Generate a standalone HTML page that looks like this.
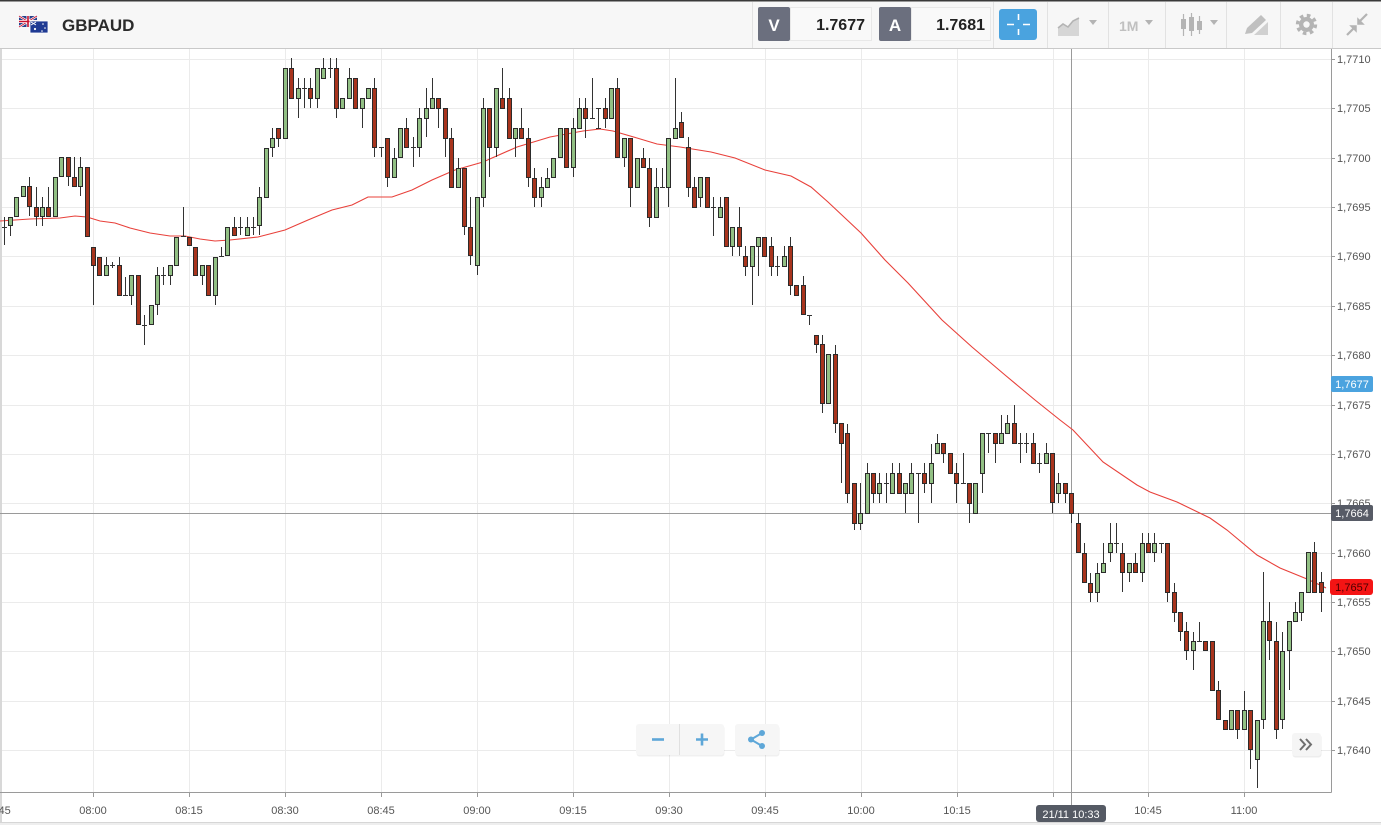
<!DOCTYPE html>
<html><head><meta charset="utf-8">
<style>
html,body{margin:0;padding:0;background:#fff;width:1381px;height:825px;overflow:hidden;}
svg{display:block;font-family:"Liberation Sans",Arial,sans-serif;}
</style></head>
<body>
<svg width="1381" height="825" viewBox="0 0 1381 825" xmlns="http://www.w3.org/2000/svg">
<!-- header -->
<rect x="0" y="0" width="1381" height="48" fill="#f7f7f7"/>
<rect x="0" y="0" width="1381" height="1.5" fill="#3a3a3a"/>
<rect x="0" y="48" width="1381" height="1" fill="#c9c9c9"/>
<g stroke="#e2e2e2" stroke-width="1">
<path d="M752.5 2V48M993.5 2V48M1047.5 2V48M1108.5 2V48M1165.5 2V48M1226.5 2V48M1280.5 2V48M1332.5 2V48"/>
</g>
<!-- flags -->
<g>
<rect x="19" y="16" width="18" height="11" fill="#27408b"/>
<path d="M19 16L37 27M37 16L19 27" stroke="#fff" stroke-width="2.2"/>
<path d="M19 16L37 27M37 16L19 27" stroke="#c8102e" stroke-width="0.8"/>
<path d="M28 16V27M19 21.5H37" stroke="#fff" stroke-width="3"/>
<path d="M28 16V27M19 21.5H37" stroke="#c8102e" stroke-width="1.6"/>
<rect x="30" y="21" width="18" height="12" fill="#1f3a93" stroke="#fff" stroke-width="0.8"/>
<circle cx="35" cy="29" r="1.1" fill="#fff"/><circle cx="43" cy="24" r="0.8" fill="#fff"/><circle cx="45" cy="28" r="0.8" fill="#fff"/><circle cx="42" cy="31" r="0.8" fill="#fff"/>
<path d="M31 22L36 25M36 22L31 25" stroke="#fff" stroke-width="1"/>
</g>
<text x="62" y="31" font-size="17" font-weight="bold" fill="#2b2b2b">GBPAUD</text>
<!-- V / A -->
<rect x="758" y="7" width="32" height="34" fill="#6b6f7e" rx="2"/>
<text x="774" y="31" font-size="17" font-weight="bold" fill="#fff" text-anchor="middle">V</text>
<rect x="790.5" y="7.5" width="81" height="33" fill="#f9f9f9" stroke="#e8e8e8"/>
<text x="865" y="30" font-size="16" font-weight="bold" fill="#222" text-anchor="end">1.7677</text>
<rect x="879" y="7" width="32" height="34" fill="#6b6f7e" rx="2"/>
<text x="895" y="31" font-size="17" font-weight="bold" fill="#fff" text-anchor="middle">A</text>
<rect x="911.5" y="7.5" width="79" height="33" fill="#f9f9f9" stroke="#e8e8e8"/>
<text x="985" y="30" font-size="16" font-weight="bold" fill="#222" text-anchor="end">1.7681</text>
<!-- crosshair button -->
<rect x="999" y="9" width="38" height="31" rx="3" fill="#4aa3df"/>
<path d="M1007 24.5H1014M1023 24.5H1030M1018.5 14V20M1018.5 29V35" stroke="#fff" stroke-width="1.6"/>
<!-- chart type icon -->
<g fill="#c4c4c4" stroke="none">
<path d="M1058 36V28L1063 24L1068 27L1073 21L1079 18V36Z" fill="#d6d6d6"/>
<path d="M1058 28L1063 24L1068 27L1073 21L1079 18" stroke="#b4b4b4" stroke-width="1.6" fill="none"/>
<path d="M1089 20H1097L1093 25Z" fill="#b4b4b4"/>
<text x="1119" y="31" font-size="14" font-weight="bold" fill="#c0c0c0">1M</text>
<path d="M1145 20H1153L1149 25Z" fill="#b4b4b4"/>
<path d="M1183.5 14V36M1191.5 13V36M1199.5 16V34" stroke="#b4b4b4" stroke-width="1.2"/>
<rect x="1181" y="19" width="5" height="10" fill="#b4b4b4"/>
<rect x="1189" y="17" width="5" height="14" fill="#b4b4b4"/>
<rect x="1197" y="21" width="5" height="9" fill="#b4b4b4"/>
<path d="M1210 20H1218L1214 25Z" fill="#b4b4b4"/>
<!-- pencil -->
<path d="M1245 34L1247 28L1261 15L1266 20L1252 33Z" fill="#c0c0c0"/>
<path d="M1254 35L1268 22V35Z" fill="#d0d0d0"/>
<!-- gear -->
<circle cx="1306.5" cy="24.5" r="7.5" fill="#b4b4b4"/>
<circle cx="1306.5" cy="24.5" r="9" fill="none" stroke="#b4b4b4" stroke-width="3.4" stroke-dasharray="3.6 3.47"/>
<circle cx="1306.5" cy="24.5" r="3.2" fill="#f7f7f7"/>
<!-- compress -->
<path d="M1347 35L1354 28M1367 14L1360 21" stroke="#b4b4b4" stroke-width="2.2"/>
<path d="M1351 26H1356V31Z M1363 24H1358V19Z" fill="#b4b4b4" stroke="#b4b4b4" stroke-width="1.5"/>
</g>

<!-- grid -->
<g stroke="#ebebeb" stroke-width="1">
<path d="M0 59.5H1331M0 108.5H1331M0 158.5H1331M0 207.5H1331M0 256.5H1331M0 306.5H1331M0 355.5H1331M0 405.5H1331M0 454.5H1331M0 503.5H1331M0 553.5H1331M0 602.5H1331M0 651.5H1331M0 701.5H1331M0 750.5H1331"/>
<path d="M93.5 49V792M189.5 49V792M285.5 49V792M381.5 49V792M477.5 49V792M573.5 49V792M669.5 49V792M765.5 49V792M861.5 49V792M957.5 49V792M1053.5 49V792M1148.5 49V792M1244.5 49V792"/>
</g>
<rect x="0" y="49" width="2" height="774" fill="#d8d8d8"/>

<!-- crosshair -->
<path d="M1071.5 49V805M0 513.5H1331" stroke="#9a9a9a" stroke-width="1"/>

<!-- MA line -->
<polyline fill="none" stroke="#e8403a" stroke-width="1.1" points="0,221 30,219 60,218 75,216 87,217 100,221 115,223 130,228 150,233 170,236 185,236 200,239 215,241 230,240 258,237 285,230 308,220 332,210 352,205 368,197 392,197 412,190 432,180 455,170 483,162 517,147 550,137 583,131 600,129 613,131 637,138 657,144 680,147 711,152 735,158 765,170 791,176 811,187 828,202 861,233 885,260 908,283 942,320 972,347 1005,375 1035,400 1060,420 1073,430 1103,462 1137,485 1150,492 1177,502 1210,518 1227,530 1257,555 1280,568 1307,579 1320,585 1326,588"/>

<!-- wicks -->
<path fill="none" stroke="#333" stroke-width="1" d="M4.5 217V245 M10.5 217V236 M29.5 177V216 M36.5 187V226 M42.5 197V226 M48.5 187V216 M68.5 157V186 M74.5 157V186 M80.5 157V196 M93.5 247V305 M106.5 257V275 M112.5 262V268 M119.5 257V295 M125.5 277V295 M131.5 275V305 M144.5 315V345 M157.5 267V315 M163.5 267V285 M170.5 265V285 M183.5 207V236 M202.5 265V285 M215.5 257V305 M221.5 247V256 M234.5 217V235 M240.5 217V235 M247.5 217V235 M253.5 217V235 M259.5 187V235 M272.5 128V157 M278.5 128V147 M291.5 58V98 M298.5 78V118 M304.5 78V108 M310.5 78V108 M317.5 68V108 M323.5 58V78 M330.5 58V78 M336.5 58V118 M349.5 68V98 M362.5 98V128 M374.5 78V157 M381.5 147V157 M387.5 138V187 M394.5 148V177 M406.5 118V147 M413.5 137V167 M419.5 108V157 M426.5 88V137 M432.5 78V108 M438.5 98V128 M445.5 108V157 M451.5 128V187 M458.5 158V187 M464.5 168V235 M470.5 197V265 M477.5 197V275 M483.5 98V207 M489.5 108V177 M496.5 88V157 M502.5 68V108 M509.5 88V138 M515.5 128V157 M521.5 108V138 M528.5 128V187 M534.5 168V207 M541.5 177V207 M547.5 168V187 M573.5 118V177 M579.5 98V128 M585.5 98V138 M592.5 78V118 M598.5 108V128 M605.5 98V128 M617.5 78V157 M624.5 138V167 M630.5 138V207 M643.5 148V167 M649.5 158V227 M656.5 168V217 M662.5 168V187 M668.5 138V207 M675.5 78V138 M681.5 112V137 M688.5 137V197 M694.5 177V207 M700.5 177V207 M713.5 197V236 M720.5 197V217 M732.5 227V256 M739.5 207V256 M745.5 246V276 M752.5 246V305 M758.5 237V276 M771.5 237V276 M777.5 256V276 M784.5 246V266 M790.5 237V295 M803.5 276V314 M809.5 315V325 M816.5 335V353 M822.5 335V413 M835.5 345V433 M841.5 423V483 M847.5 424V503 M854.5 483V530 M860.5 483V530 M867.5 463V513 M873.5 473V503 M879.5 473V503 M886.5 473V503 M892.5 463V493 M899.5 463V493 M905.5 483V513 M911.5 463V493 M918.5 473V523 M924.5 463V493 M931.5 444V503 M937.5 434V453 M943.5 443V463 M956.5 463V503 M963.5 453V483 M969.5 483V523 M982.5 433V493 M988.5 433V453 M995.5 433V463 M1001.5 415V443 M1007.5 415V433 M1014.5 405V443 M1020.5 433V463 M1026.5 433V453 M1033.5 433V463 M1039.5 453V473 M1046.5 443V463 M1052.5 453V513 M1058.5 473V503 M1065.5 483V503 M1071.5 493V523 M1078.5 513V552 M1084.5 543V582 M1090.5 573V602 M1097.5 563V602 M1103.5 543V572 M1110.5 523V562 M1116.5 523V553 M1122.5 543V592 M1129.5 563V582 M1135.5 553V572 M1142.5 533V582 M1148.5 533V552 M1154.5 533V562 M1161.5 543V553 M1167.5 543V602 M1174.5 583V622 M1180.5 612V641 M1186.5 622V660 M1193.5 632V670 M1199.5 622V641 M1218.5 681V719 M1237.5 710V739 M1244.5 691V729 M1250.5 710V769 M1257.5 720V788 M1263.5 572V729 M1269.5 602V660 M1276.5 622V739 M1282.5 632V729 M1289.5 621V690 M1295.5 602V621 M1301.5 592V621 M1314.5 542V592 M1321.5 572V612"/>

<!-- dojis -->
<path fill="none" stroke="#333" stroke-width="1" d="M2 227.5h5 M110 265.5h5 M123 295.5h5 M142 325.5h5 M161 275.5h5 M181 236.5h5 M219 256.5h5 M238 227.5h5 M251 227.5h5 M302 88.5h5 M328 68.5h5 M379 147.5h5 M411 147.5h5 M590 118.5h5 M596 108.5h5 M596 128.5h5 M660 187.5h5 M711 207.5h5 M775 266.5h5 M807 315.5h5 M884 483.5h5 M916 473.5h5 M961 483.5h5 M986 433.5h5 M1018 443.5h5 M1024 443.5h5 M1037 463.5h5 M1114 543.5h5 M1159 543.5h5 M1197 641.5h5"/>

<!-- green bodies -->
<path fill="#92c084" stroke="#2b2b2b" stroke-width="1" d="M8.5 217.5h4v8h-4z M14.5 197.5h4v19h-4z M21.5 186.5h4v10h-4z M40.5 207.5h4v9h-4z M53.5 177.5h4v39h-4z M59.5 157.5h4v19h-4z M78.5 167.5h4v19h-4z M104.5 265.5h4v10h-4z M129.5 275.5h4v20h-4z M149.5 305.5h4v19h-4z M155.5 275.5h4v29h-4z M168.5 265.5h4v10h-4z M174.5 237.5h4v28h-4z M200.5 265.5h4v10h-4z M213.5 257.5h4v38h-4z M225.5 227.5h4v28h-4z M245.5 227.5h4v8h-4z M257.5 197.5h4v28h-4z M264.5 148.5h4v49h-4z M270.5 138.5h4v9h-4z M283.5 68.5h4v70h-4z M296.5 88.5h4v10h-4z M315.5 68.5h4v30h-4z M321.5 68.5h4v10h-4z M340.5 98.5h4v10h-4z M347.5 78.5h4v20h-4z M360.5 98.5h4v10h-4z M366.5 88.5h4v10h-4z M392.5 158.5h4v19h-4z M398.5 128.5h4v29h-4z M417.5 118.5h4v29h-4z M424.5 108.5h4v10h-4z M430.5 98.5h4v10h-4z M456.5 168.5h4v19h-4z M475.5 197.5h4v68h-4z M481.5 108.5h4v89h-4z M494.5 88.5h4v59h-4z M513.5 128.5h4v10h-4z M539.5 187.5h4v10h-4z M545.5 178.5h4v9h-4z M551.5 158.5h4v19h-4z M558.5 128.5h4v29h-4z M571.5 128.5h4v39h-4z M577.5 108.5h4v20h-4z M609.5 88.5h4v30h-4z M622.5 138.5h4v19h-4z M635.5 158.5h4v29h-4z M654.5 187.5h4v30h-4z M666.5 138.5h4v49h-4z M673.5 128.5h4v10h-4z M698.5 177.5h4v20h-4z M718.5 207.5h4v10h-4z M730.5 227.5h4v19h-4z M750.5 246.5h4v20h-4z M756.5 237.5h4v9h-4z M782.5 256.5h4v10h-4z M826.5 354.5h4v49h-4z M858.5 513.5h4v10h-4z M865.5 473.5h4v40h-4z M877.5 483.5h4v10h-4z M890.5 473.5h4v20h-4z M903.5 483.5h4v10h-4z M909.5 473.5h4v20h-4z M929.5 463.5h4v20h-4z M935.5 443.5h4v10h-4z M973.5 483.5h4v30h-4z M980.5 433.5h4v40h-4z M999.5 433.5h4v10h-4z M1005.5 423.5h4v10h-4z M1044.5 453.5h4v10h-4z M1056.5 483.5h4v10h-4z M1095.5 573.5h4v19h-4z M1101.5 563.5h4v9h-4z M1108.5 543.5h4v9h-4z M1127.5 563.5h4v9h-4z M1140.5 543.5h4v29h-4z M1152.5 543.5h4v9h-4z M1191.5 641.5h4v9h-4z M1229.5 710.5h4v19h-4z M1242.5 710.5h4v19h-4z M1255.5 720.5h4v39h-4z M1261.5 621.5h4v98h-4z M1280.5 651.5h4v68h-4z M1287.5 621.5h4v29h-4z M1293.5 612.5h4v9h-4z M1299.5 592.5h4v20h-4z M1306.5 552.5h4v40h-4z"/>

<!-- red bodies -->
<path fill="#a8341d" stroke="#2b2b2b" stroke-width="1" d="M27.5 186.5h4v20h-4z M34.5 207.5h4v9h-4z M46.5 207.5h4v9h-4z M66.5 157.5h4v19h-4z M72.5 177.5h4v9h-4z M85.5 167.5h4v69h-4z M91.5 247.5h4v18h-4z M97.5 257.5h4v18h-4z M117.5 265.5h4v30h-4z M136.5 275.5h4v49h-4z M187.5 237.5h4v8h-4z M193.5 247.5h4v28h-4z M206.5 265.5h4v30h-4z M232.5 227.5h4v8h-4z M276.5 128.5h4v10h-4z M289.5 68.5h4v30h-4z M308.5 88.5h4v10h-4z M334.5 68.5h4v40h-4z M353.5 78.5h4v30h-4z M372.5 88.5h4v59h-4z M385.5 138.5h4v39h-4z M404.5 128.5h4v19h-4z M436.5 98.5h4v10h-4z M443.5 108.5h4v30h-4z M449.5 138.5h4v49h-4z M462.5 168.5h4v58h-4z M468.5 227.5h4v28h-4z M487.5 108.5h4v39h-4z M500.5 98.5h4v10h-4z M507.5 98.5h4v40h-4z M519.5 128.5h4v10h-4z M526.5 138.5h4v39h-4z M532.5 178.5h4v19h-4z M564.5 128.5h4v39h-4z M583.5 108.5h4v10h-4z M603.5 108.5h4v10h-4z M615.5 88.5h4v69h-4z M628.5 138.5h4v49h-4z M641.5 158.5h4v9h-4z M647.5 168.5h4v49h-4z M679.5 122.5h4v15h-4z M686.5 147.5h4v40h-4z M692.5 187.5h4v20h-4z M705.5 177.5h4v30h-4z M724.5 197.5h4v49h-4z M737.5 227.5h4v19h-4z M743.5 256.5h4v10h-4z M762.5 237.5h4v19h-4z M769.5 246.5h4v20h-4z M788.5 246.5h4v39h-4z M794.5 285.5h4v10h-4z M801.5 285.5h4v29h-4z M814.5 335.5h4v9h-4z M820.5 344.5h4v59h-4z M833.5 354.5h4v69h-4z M839.5 423.5h4v20h-4z M845.5 433.5h4v60h-4z M852.5 483.5h4v40h-4z M871.5 473.5h4v20h-4z M897.5 473.5h4v20h-4z M922.5 473.5h4v10h-4z M941.5 443.5h4v10h-4z M948.5 453.5h4v20h-4z M954.5 473.5h4v10h-4z M967.5 483.5h4v20h-4z M993.5 433.5h4v10h-4z M1012.5 423.5h4v20h-4z M1031.5 443.5h4v20h-4z M1050.5 453.5h4v49h-4z M1063.5 483.5h4v10h-4z M1069.5 493.5h4v20h-4z M1076.5 523.5h4v29h-4z M1082.5 553.5h4v29h-4z M1088.5 583.5h4v9h-4z M1120.5 553.5h4v19h-4z M1133.5 563.5h4v9h-4z M1146.5 543.5h4v9h-4z M1165.5 543.5h4v49h-4z M1172.5 592.5h4v20h-4z M1178.5 612.5h4v19h-4z M1184.5 631.5h4v19h-4z M1203.5 641.5h4v9h-4z M1210.5 641.5h4v49h-4z M1216.5 690.5h4v29h-4z M1223.5 720.5h4v9h-4z M1235.5 710.5h4v19h-4z M1248.5 710.5h4v39h-4z M1267.5 621.5h4v19h-4z M1274.5 641.5h4v88h-4z M1312.5 552.5h4v40h-4z M1319.5 582.5h4v10h-4z"/>

<!-- axes -->
<path d="M1331.5 49V792.5M0 792.5H1331.5" stroke="#9a9a9a" stroke-width="1"/>
<path stroke="#9a9a9a" stroke-width="1" d="M1331 59.5h4M1331 108.5h4M1331 158.5h4M1331 207.5h4M1331 256.5h4M1331 306.5h4M1331 355.5h4M1331 405.5h4M1331 454.5h4M1331 503.5h4M1331 553.5h4M1331 602.5h4M1331 651.5h4M1331 701.5h4M1331 750.5h4 M93.5 792v5M189.5 792v5M285.5 792v5M381.5 792v5M477.5 792v5M573.5 792v5M669.5 792v5M765.5 792v5M861.5 792v5M957.5 792v5M1053.5 792v5M1148.5 792v5M1244.5 792v5"/>
<g font-size="11" fill="#555">
<text x="1337" y="63">1,7710</text>
<text x="1337" y="112">1,7705</text>
<text x="1337" y="162">1,7700</text>
<text x="1337" y="211">1,7695</text>
<text x="1337" y="260">1,7690</text>
<text x="1337" y="310">1,7685</text>
<text x="1337" y="359">1,7680</text>
<text x="1337" y="409">1,7675</text>
<text x="1337" y="458">1,7670</text>
<text x="1337" y="507">1,7665</text>
<text x="1337" y="557">1,7660</text>
<text x="1337" y="606">1,7655</text>
<text x="1337" y="655">1,7650</text>
<text x="1337" y="705">1,7645</text>
<text x="1337" y="754">1,7640</text>
</g>
<g font-size="11" fill="#555" text-anchor="middle">
<text x="-3" y="814">07:45</text>
<text x="93" y="814">08:00</text>
<text x="189" y="814">08:15</text>
<text x="285" y="814">08:30</text>
<text x="381" y="814">08:45</text>
<text x="477" y="814">09:00</text>
<text x="573" y="814">09:15</text>
<text x="669" y="814">09:30</text>
<text x="765" y="814">09:45</text>
<text x="861" y="814">10:00</text>
<text x="957" y="814">10:15</text>
<text x="1148" y="814">10:45</text>
<text x="1244" y="814">11:00</text>
</g>

<!-- price labels -->
<rect x="1331" y="376" width="42" height="16" rx="2" fill="#4ba3df"/>
<text x="1352" y="388" font-size="11" fill="#fff" text-anchor="middle">1,7677</text>
<rect x="1331" y="505" width="42" height="16" rx="2" fill="#575b66"/>
<text x="1352" y="517" font-size="11" fill="#fff" text-anchor="middle">1,7664</text>
<rect x="1330" y="579" width="43" height="16" rx="3" fill="#f41414"/>
<text x="1352" y="591" font-size="11" fill="#4a0000" text-anchor="middle">1,7657</text>

<!-- time crosshair label -->
<rect x="1036" y="805" width="70" height="17" rx="3" fill="#555a64"/>
<text x="1071" y="818" font-size="11" fill="#fff" text-anchor="middle">21/11 10:33</text>

<!-- bottom strip -->
<rect x="0" y="822" width="1381" height="3" fill="#eeeeee"/>
<rect x="0" y="822" width="1381" height="1" fill="#d6d6d6"/>

<!-- zoom buttons -->
<g>
<rect x="636.5" y="725.5" width="88" height="31" rx="3" fill="#000" opacity="0.06"/>
<rect x="636" y="724" width="88" height="31" rx="3" fill="#f6f6f6"/>
<path d="M679.5 724V755" stroke="#e0e0e0"/>
<path d="M652 739.5H664" stroke="#5ea7d8" stroke-width="2.6"/>
<path d="M696 739.5H708M702 733.5V745.5" stroke="#5ea7d8" stroke-width="2.6"/>
<rect x="735.5" y="725.5" width="44" height="31" rx="3" fill="#000" opacity="0.06"/>
<rect x="735" y="724" width="44" height="31" rx="3" fill="#f6f6f6"/>
<path d="M751 739.5L762 733M751 739.5L762 746" stroke="#5ea7d8" stroke-width="2"/>
<circle cx="751" cy="739.5" r="3" fill="#5ea7d8"/>
<circle cx="762" cy="733" r="3" fill="#5ea7d8"/>
<circle cx="762" cy="746" r="3" fill="#5ea7d8"/>
</g>
<!-- >> button -->
<rect x="1292.5" y="734.5" width="29" height="23" rx="3" fill="#000" opacity="0.07"/>
<rect x="1292" y="733" width="29" height="23" rx="3" fill="#f5f5f5"/>
<path d="M1300 739L1305 744.5L1300 750M1306 739L1311 744.5L1306 750" fill="none" stroke="#6f6f6f" stroke-width="2"/>
</svg>
</body></html>
